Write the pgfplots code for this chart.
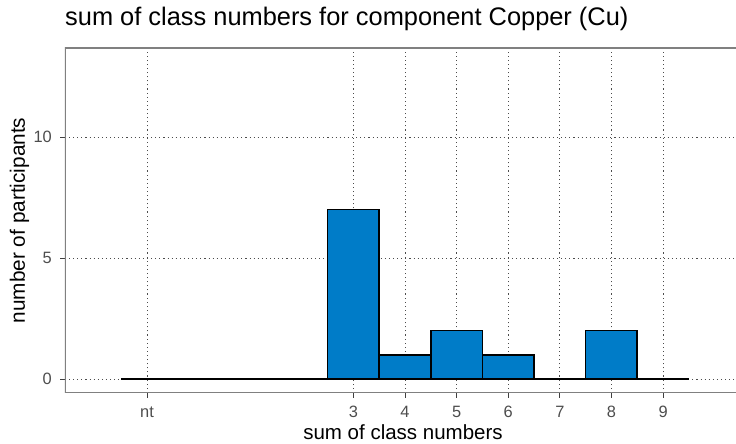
\documentclass[border=0pt]{standalone}
\usepackage{pgfplots}
\pgfplotsset{compat=1.18}
\usepackage{fontspec}
\setmainfont{Liberation Sans}
\definecolor{barblue}{RGB}{0,124,200}
\definecolor{tickgray}{RGB}{77,77,77}
\definecolor{framegray}{RGB}{128,128,128}
\begin{document}
\begin{tikzpicture}
\path[use as bounding box] (-65pt,-51pt) rectangle (671pt,393pt);
\begin{axis}[
  at={(0,0)}, anchor=south west,
  scale only axis, width=676pt, height=345pt,
  xmin=-2.589, xmax=10.51, ymin=-0.579, ymax=13.677,
  axis line style={draw=none},
  xtick={-1,3,4,5,6,7,8,9},
  xticklabels={nt,3,4,5,6,7,8,9},
  ytick={0,5,10},
  xtick pos=bottom, ytick pos=left,
  tick align=outside,
  major tick length=4.5pt,
  tick style={color=black!75, line width=0.9pt},
  grid=major,
  major grid style={color=black!70, line width=0.9pt, dash pattern=on 1.1pt off 3pt},
  /pgf/number format/assume math mode=true,
  ticklabel style={font=\fontsize{16.4}{19}\selectfont, text=tickgray, inner sep=0pt, text height=12pt, text depth=0pt},
  xticklabel style={anchor=north, yshift=-7.5pt},
  yticklabel style={anchor=east, xshift=-8.5pt},
  title={sum of class numbers for component Copper (Cu)},
  title style={at={(axis description cs:0,1.0464)}, anchor=base west, inner sep=0pt, font=\fontsize{25.4}{30}\selectfont},
  xlabel={sum of class numbers},
  xlabel style={at={(axis description cs:0.5,-0.1362)}, anchor=base, inner sep=0pt, font=\fontsize{20.5}{24}\selectfont},
  ylabel={number of participants},
  ylabel style={at={(axis description cs:-0.0592,0.5)}, anchor=base, inner sep=0pt, font=\fontsize{20.8}{24}\selectfont},
]
\addplot[ybar interval, fill=barblue, draw=black, line width=1.6pt] coordinates {
  (-1.5,0) (-0.5,0) (0.5,0) (1.5,0) (2.5,7) (3.5,1) (4.5,2) (5.5,1) (6.5,0) (7.5,2) (8.5,0) (9.5,0)
};
\draw[framegray, line width=1.3pt] (rel axis cs:1,1) -- (rel axis cs:0,1) -- (rel axis cs:0,0) -- (rel axis cs:1,0);
\end{axis}
\end{tikzpicture}
\end{document}
